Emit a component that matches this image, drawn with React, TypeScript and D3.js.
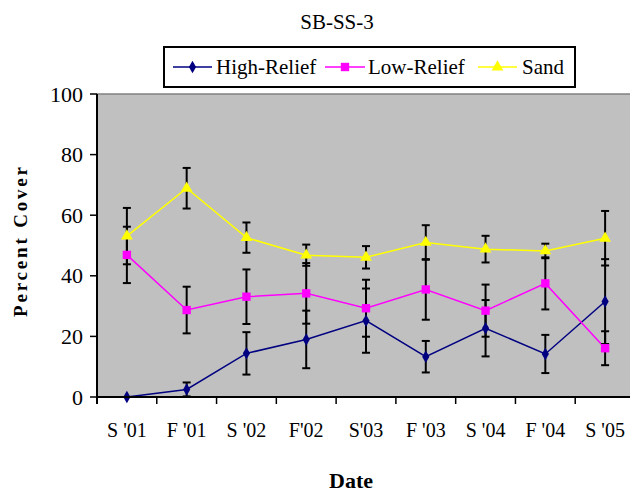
import React from 'react';
import * as d3 from 'd3';

const categories = ["S '01", "F '01", "S '02", "F'02", "S'03", "F '03", "S '04", "F '04", "S '05"];
const highRelief = [0, 2.5, 14.4, 19, 25.2, 13.3, 22.7, 14.2, 31.5];
const highErr = [0, 2.3, 7, 9.5, 10.6, 5.2, 9.3, 6.3, 14];
const lowRelief = [46.9, 28.7, 33.1, 34.2, 29.3, 35.5, 28.5, 37.5, 16.1];
const lowErr = [9.3, 7.7, 9, 10, 9.4, 10, 8.6, 8.6, 5.6];
const sand = [53.1, 68.9, 52.6, 46.8, 46.1, 51, 48.8, 48.2, 52.4];
const sandErr = [9.3, 6.7, 5, 3.5, 3.7, 5.7, 4.4, 2.4, 9];
const yTicks = [0, 20, 40, 60, 80, 100];

const series = [
  { name: 'High-Relief', values: highRelief, err: highErr, color: '#000080', symbol: d3.symbolDiamond, size: 45 },
  { name: 'Low-Relief', values: lowRelief, err: lowErr, color: '#FF00FF', symbol: d3.symbolSquare, size: 70 },
  { name: 'Sand', values: sand, err: sandErr, color: '#FFFF00', symbol: d3.symbolTriangle, size: 60 },
];

const W = 630;
const H = 494;
const plot = { left: 97, right: 635, top: 94, bottom: 397 };
const font = "'Liberation Serif', 'Times New Roman', serif";

const App = () => {
  const x = d3.scaleBand<string>().domain(categories).range([plot.left, plot.right]);
  const cx = (c: string) => (x(c) as number) + x.bandwidth() / 2;
  const y = d3.scaleLinear().domain([0, 100]).range([plot.bottom, plot.top]);

  const line = d3
    .line<number>()
    .x((_, i) => cx(categories[i]))
    .y((d) => y(d));

  // legend sample positions
  const legendItems = [
    { x0: 173, x1: 212, tx: 216 },
    { x0: 325, x1: 365, tx: 368 },
    { x0: 478, x1: 517, tx: 522 },
  ];

  return (
    <svg width={W} height={H} style={{ position: 'absolute', left: 0, top: 0, background: '#fff', fontFamily: font }}>
      <text x={337} y={29} textAnchor="middle" fontSize={21}>SB-SS-3</text>

      <rect x={164} y={47} width={411} height={40} fill="#fff" stroke="#000" strokeWidth={2} />
      {series.map((s, i) => {
        const it = legendItems[i];
        const my = 67;
        return (
          <g key={s.name}>
            <line x1={it.x0} x2={it.x1} y1={my} y2={my} stroke={s.color} strokeWidth={1.5} />
            <path d={d3.symbol().type(s.symbol).size(s.size)() as string} transform={`translate(${(it.x0 + it.x1) / 2},${my})`} fill={s.color} />
            <text x={it.tx} y={my + 7} fontSize={21}>{s.name}</text>
          </g>
        );
      })}

      <rect x={plot.left} y={plot.top} width={plot.right - plot.left} height={plot.bottom - plot.top} fill="#C0C0C0" />
      <line x1={plot.left} x2={W} y1={plot.top} y2={plot.top} stroke="#808080" strokeWidth={1.5} />

      {series.map((s) => (
        <path key={s.name} d={line(s.values) as string} fill="none" stroke={s.color} strokeWidth={1.5} />
      ))}

      {series.map((s) => (
        <g key={s.name + 'err'} stroke="#000" strokeWidth={2}>
          {s.values.map((v, i) => {
            if (!s.err[i]) return null;
            const px = cx(categories[i]);
            const y1 = y(v + s.err[i]);
            const y2 = y(v - s.err[i]);
            return (
              <g key={i}>
                <line x1={px} x2={px} y1={y1} y2={y2} />
                <line x1={px - 4} x2={px + 4} y1={y1} y2={y1} />
                <line x1={px - 4} x2={px + 4} y1={y2} y2={y2} />
              </g>
            );
          })}
        </g>
      ))}

      {series.map((s) => (
        <g key={s.name + 'm'} fill={s.color}>
          {s.values.map((v, i) => (
            <path key={i} d={d3.symbol().type(s.symbol).size(s.size)() as string} transform={`translate(${cx(categories[i])},${y(v)})`} />
          ))}
        </g>
      ))}

      <line x1={plot.left} x2={plot.left} y1={plot.top} y2={plot.bottom + 7} stroke="#000" strokeWidth={2} />
      <line x1={plot.left} x2={W} y1={plot.bottom} y2={plot.bottom} stroke="#000" strokeWidth={2} />
      {yTicks.map((t) => (
        <g key={t}>
          <line x1={plot.left - 7} x2={plot.left} y1={y(t)} y2={y(t)} stroke="#000" strokeWidth={1.5} />
          <text x={83} y={y(t) + 7.5} textAnchor="end" fontSize={22}>{t}</text>
        </g>
      ))}
      {categories.map((c) => (
        <g key={c}>
          <line x1={x(c) as number} x2={x(c) as number} y1={plot.bottom} y2={plot.bottom + 7} stroke="#000" strokeWidth={1.5} />
          <text x={cx(c)} y={437} textAnchor="middle" fontSize={20}>{c}</text>
        </g>
      ))}

      <text x={351} y={488} textAnchor="middle" fontSize={22} fontWeight="bold">Date</text>
      <text
        transform="translate(27,242) rotate(-90)"
        textAnchor="middle"
        fontSize={19}
        fontWeight="bold"
        textLength={150}
        lengthAdjust="spacing"
      >
        Percent Cover
      </text>
    </svg>
  );
};

export default App;
